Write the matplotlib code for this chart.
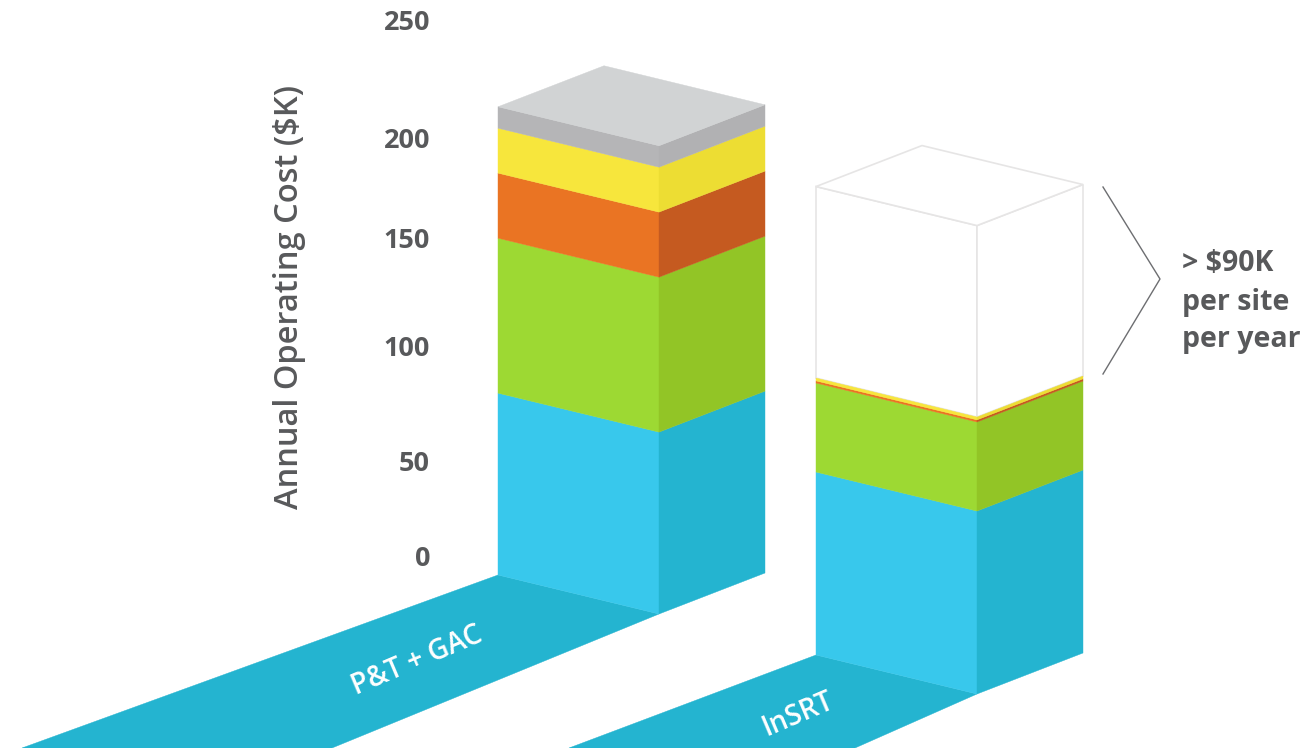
import matplotlib
matplotlib.use("Agg")
import matplotlib.pyplot as plt

# annual operating cost per layer, $K, bottom to top
bar_names = ["P&T + GAC", "InSRT"]
pt_gac_costs = [85, 72.4, 30.4, 21, 10]
insrt_costs = [85.5, 41.6, 1.0, 1.3, 89.5]
tick_values = [0, 50, 100, 150, 200, 250]

front_colors = ["#38C8EC", "#9DD933", "#EA7423", "#F7E63C", "#B5B5B7"]
side_colors = ["#24B4D0", "#92C526", "#C55A20", "#EDDD33", "#B1B1B3"]
top_color = "#D1D3D4"
floor_color = "#24B4D0"
text_color = "#58595B"
ghost_edge = "#E6E5E5"

# layout in pixels
px_per_k = 2.14
bar_origin = [(498, 575), (816, 655)]
front_vec = (161, 39)
side_vec = (106, -41)
floor_ends = [(22, 332), (569, 855)]
tick_label_y = [559, 464, 349, 241, 141, 23]

plt.rcParams["font.family"] = ["Open Sans", "DejaVu Sans"]

fig = plt.figure(figsize=(13.12, 7.48), dpi=100)
ax = fig.add_axes([0, 0, 1, 1])
ax.set_xlim(0, 1312)
ax.set_ylim(748, 0)
ax.axis("off")


def box_faces(origin, low, high):
    x0, y0 = origin
    fx, fy = front_vec
    sx, sy = side_vec
    y_low = y0 - low * px_per_k
    y_high = y0 - high * px_per_k
    front = [(x0, y_low), (x0 + fx, y_low + fy), (x0 + fx, y_high + fy), (x0, y_high)]
    side = [(x0 + fx, y_low + fy), (x0 + fx + sx, y_low + fy + sy),
            (x0 + fx + sx, y_high + fy + sy), (x0 + fx, y_high + fy)]
    top = [(x0, y_high), (x0 + fx, y_high + fy), (x0 + fx + sx, y_high + fy + sy),
           (x0 + sx, y_high + sy)]
    return front, side, top


def draw_poly(points, color, edge=None, lw=0.0, z=2):
    ax.fill(*zip(*points), facecolor=color, edgecolor=edge if edge else color,
            linewidth=lw if edge else 0.3, zorder=z)


# floor strips running off the bottom edge
for origin, (left_end, right_end) in zip(bar_origin, floor_ends):
    x0, y0 = origin
    draw_poly([(x0, y0), (x0 + front_vec[0], y0 + front_vec[1]),
               (right_end, 748), (left_end, 748)], floor_color, z=1)

# first bar, all layers solid
low = 0
for i, cost in enumerate(pt_gac_costs):
    front, side, top = box_faces(bar_origin[0], low, low + cost)
    draw_poly(front, front_colors[i])
    draw_poly(side, side_colors[i])
    low += cost
draw_poly(top, top_color)

# second bar, top layer is only an outline showing the saving
low = 0
for i, cost in enumerate(insrt_costs):
    front, side, top = box_faces(bar_origin[1], low, low + cost)
    if i < 4:
        draw_poly(front, front_colors[i])
        draw_poly(side, side_colors[i])
    else:
        draw_poly(front, "white", edge=ghost_edge, lw=1.2, z=1.5)
        draw_poly(side, "white", edge=ghost_edge, lw=1.2, z=1.5)
        draw_poly(top, "white", edge=ghost_edge, lw=1.2, z=1.5)
    low += cost

# axis labels
for value, y in zip(tick_values, tick_label_y):
    ax.text(430, y, str(value), ha="right", va="center", fontsize=19.5,
            fontweight="bold", color=text_color)
ax.text(289, 297, "Annual Operating Cost ($K)", rotation=90, ha="center", va="center",
        fontsize=23.5, fontweight="semibold", color=text_color)

ax.text(417, 661, bar_names[0], rotation=23, rotation_mode="anchor", ha="center",
        va="center", fontsize=20, fontweight="semibold", color="white", zorder=3)
ax.text(798, 714, bar_names[1], rotation=23, rotation_mode="anchor", ha="center",
        va="center", fontsize=20, fontweight="semibold", color="white", zorder=3)

# bracket and saving note
ax.plot([1103, 1160, 1103], [187, 279, 374], color="#6D6E71", lw=1.0, zorder=3)
ax.text(1182, 263, "> $90K", ha="left", va="center", fontsize=20.5, fontweight="bold", color=text_color)
ax.text(1182, 302, "per site", ha="left", va="center", fontsize=20.5, fontweight="bold", color=text_color)
ax.text(1182, 339, "per year", ha="left", va="center", fontsize=20.5, fontweight="bold", color=text_color)

fig.savefig("out.png", dpi=100)
